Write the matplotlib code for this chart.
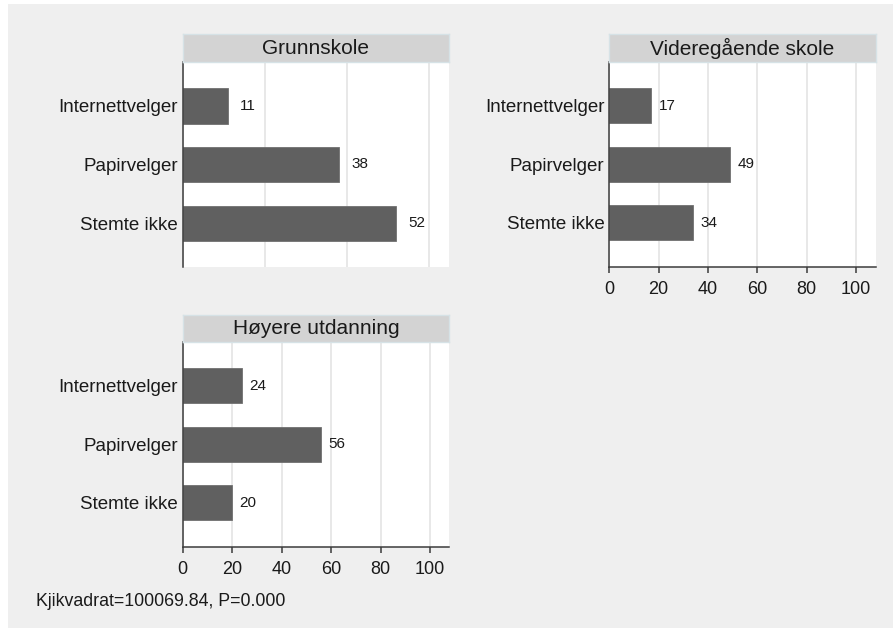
import matplotlib
matplotlib.use("Agg")
import matplotlib.pyplot as plt

plt.rcParams['font.family'] = ['Liberation Sans', 'DejaVu Sans']

# data
categories = ["Internettvelger", "Papirvelger", "Stemte ikke"]
groups = ["Grunnskole", "Videregående skole", "Høyere utdanning"]
grunnskole = [11, 38, 52]
videregaende = [17, 49, 34]
hoyere = [24, 56, 20]
xticks = [0, 20, 40, 60, 80, 100]
note = "Kjikvadrat=100069.84, P=0.000"

W, H = 893, 628
fig = plt.figure(figsize=(W / 100, H / 100), dpi=100)
fig.patch.set_facecolor('white')

# grey graph region (offset a bit like the original export)
bg = fig.add_axes([8 / W, 0, 1 - 8 / W, 1 - 4 / H])
bg.set_facecolor('#efefef')
bg.set_xticks([]); bg.set_yticks([])
for s in bg.spines.values():
    s.set_visible(False)
bg.set_zorder(-10)

bar_col = '#606060'
grid_col = '#e6e6e6'
axis_col = '#3c3c3c'


def px_axes(x0, y0, x1, y1):
    return fig.add_axes([x0 / W, 1 - y1 / H, (x1 - x0) / W, (y1 - y0) / H])


def panel(box, strip_top, title, vals, xmax, show_x):
    x0, y0, x1, y1 = box
    ax = px_axes(x0, y0, x1, y1)
    ax.set_facecolor('white')
    ypos = list(range(len(categories)))
    ax.barh(ypos, vals, height=0.6, color=bar_col, edgecolor='#707070',
            linewidth=0.6, zorder=3)
    for y, v in zip(ypos, vals):
        ax.text(v + 3, y, f"{v}", va='center', ha='left', fontsize=11,
                color='#1a1a1a', zorder=4)
    ax.set_yticks(ypos)
    ax.set_yticklabels(categories, fontsize=13.5, color='#1a1a1a')
    ax.tick_params(axis='y', length=0, pad=3.5)
    ax.set_xticks(xticks)
    ax.set_ylim(2.75, -0.75)
    ax.set_xlim(0, xmax)
    ax.xaxis.grid(True, color=grid_col, linewidth=1.3, zorder=0)
    ax.set_axisbelow(True)
    for s in ['top', 'right']:
        ax.spines[s].set_visible(False)
    ax.spines['left'].set_color(axis_col)
    ax.spines['left'].set_linewidth(1.1)
    ax.spines['left'].set_zorder(5)
    if show_x:
        ax.spines['bottom'].set_color(axis_col)
        ax.spines['bottom'].set_linewidth(1.1)
        ax.tick_params(axis='x', length=4, width=1.1, color=axis_col,
                       labelsize=13, labelcolor='#1a1a1a', pad=6.5)
    else:
        ax.spines['bottom'].set_visible(False)
        ax.tick_params(axis='x', length=0, labelbottom=False)

    st = px_axes(x0, strip_top, x1, y0)
    st.set_facecolor('#d3d3d3')
    st.set_xticks([]); st.set_yticks([])
    for s in st.spines.values():
        s.set_color('#d6e2e6')
        s.set_linewidth(1.0)
    st.text(0.5, 0.5, title, ha='center', va='center', fontsize=15,
            color='#1a1a1a', transform=st.transAxes)
    return ax


panel((182.7, 62, 449, 267), 34, groups[0], grunnskole, 64.8, False)
panel((609.3, 62, 875.5, 266.7), 34, groups[1], videregaende, 107.9, True)
panel((182.7, 341.7, 449, 546.7), 315, groups[2], hoyere, 107.6, True)

fig.text(36 / W, 1 - 601 / H, note, ha='left', va='center', fontsize=12.8,
         color='#1a1a1a')

fig.savefig('out.png', dpi=100, facecolor=fig.get_facecolor())
